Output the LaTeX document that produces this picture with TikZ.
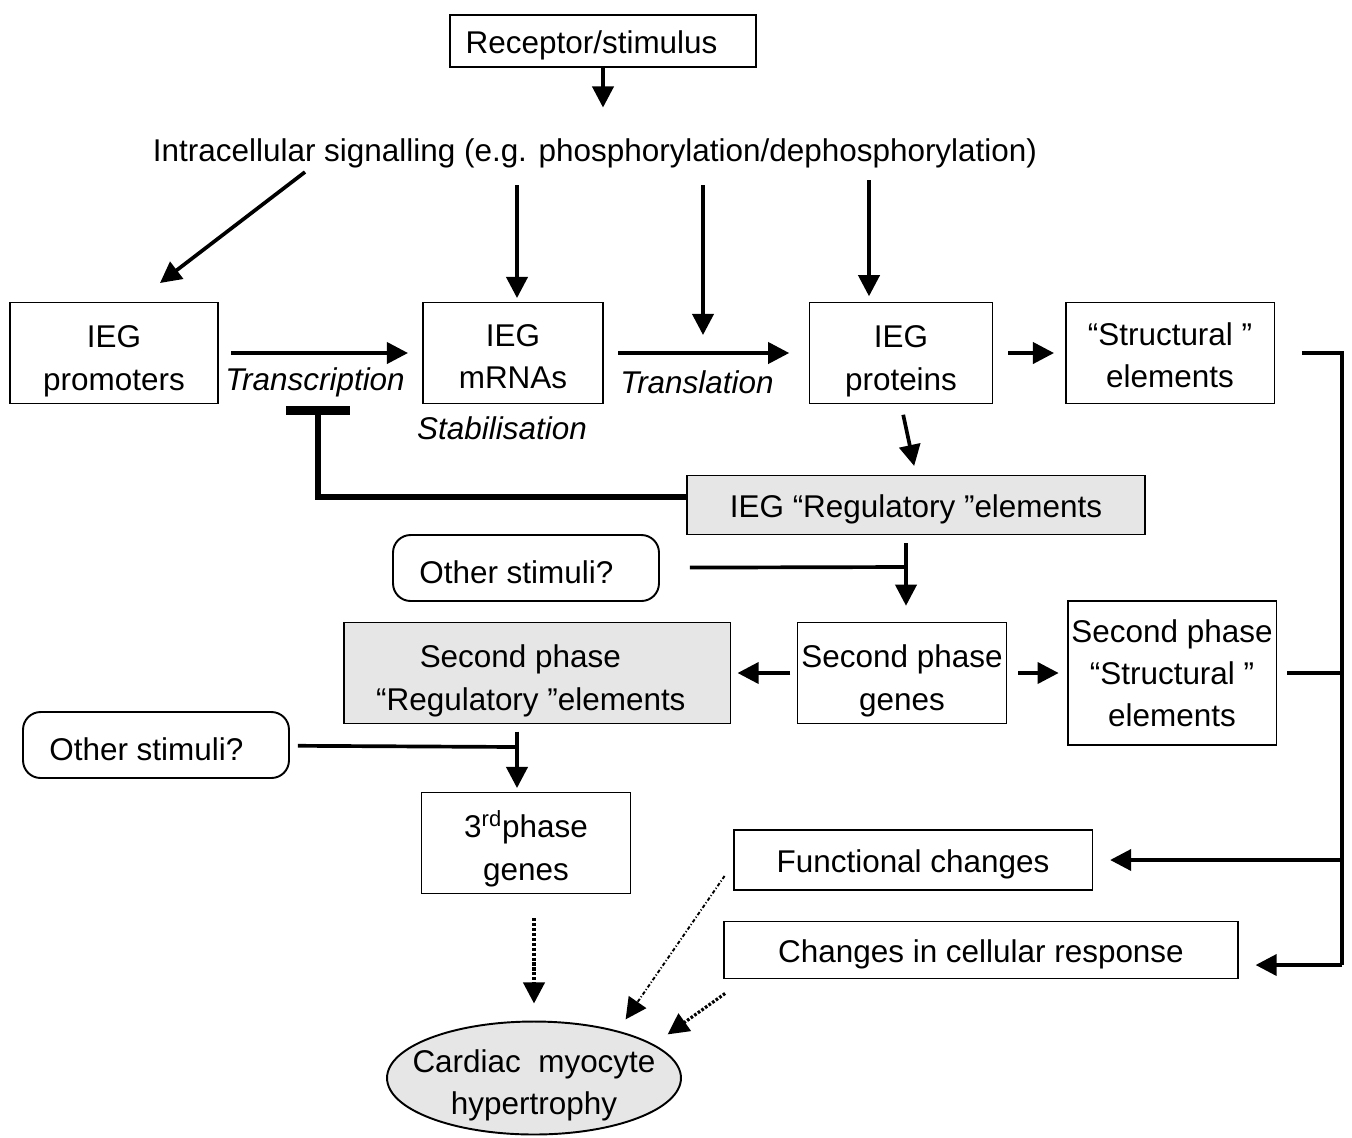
\documentclass[tikz,border=0pt]{standalone}
\usepackage{fontspec}
\setmainfont{Liberation Sans}
\usetikzlibrary{arrows.meta,shapes.geometric}
\definecolor{boxgray}{RGB}{230,230,230}
\newcommand{\boxstrut}[1][22pt]{\rule{0pt}{#1}}

\begin{document}
\begin{tikzpicture}[x=0.02cm,y=-0.02cm,
    font=\fontsize{17.9}{24}\selectfont,
    box/.style={draw,line width=1.1pt,inner sep=0pt,align=center,execute at begin node={\rule{0pt}{18pt}}},
    graybox/.style={box,fill=boxgray},
    stimbox/.style={box,rounded corners=10pt,minimum width=5.32cm,minimum height=1.32cm},
    arr/.style={line width=2.1pt,-{Triangle[length=12pt,width=12pt]}},
    ln/.style={line width=2.1pt,line join=miter},
    lbl/.style={font=\fontsize{17.9}{24}\selectfont\itshape}]
    \useasboundingbox (0,0) rectangle (1352,1137);

    \node[box,minimum width=6.12cm,minimum height=1.04cm] (rec) at (603,41) {Receptor/stimulus\hspace{13pt}};
    \node (sig) at (595,153) {Intracellular signalling (e.g. phosphorylation/dephosphorylation)};

    \node[box,minimum width=4.16cm,minimum height=2.02cm] (prom) at (114,353) {\boxstrut IEG\\promoters};
    \node[box,minimum width=3.6cm,minimum height=2.02cm] (mrna) at (513,353) {\boxstrut[17pt]IEG\\mRNAs};
    \node[box,minimum width=3.66cm,minimum height=2.02cm] (prot) at (901,353) {\boxstrut IEG\\proteins};
    \node[box,minimum width=4.18cm,minimum height=2.02cm] (struc) at (1170,353) {\boxstrut[15.5pt]“Structural ”\\elements};

    \node[lbl] (transc) at (315,382) {Transcription};
    \node[lbl] (transl) at (697,382) {Translation};
    \node[lbl] (stab) at (502,428) {Stabilisation};

    \node[graybox,minimum width=9.16cm,minimum height=1.18cm] (ireg) at (916,505) {IEG “Regulatory ”elements};
    \node[stimbox] (oth1) at (526,568) {Other stimuli?\hspace{11pt}};

    \node[box,minimum width=4.18cm,minimum height=2.02cm] (sgen) at (902,673) {\boxstrut Second phase\\genes};
    \node[graybox,minimum width=7.74cm,minimum height=2.02cm] (sreg) at (537,673) {\boxstrut Second phase\hspace*{19pt}\\“Regulatory ”elements\hspace*{7pt}};
    \node[box,minimum width=4.18cm,minimum height=2.88cm] (sstr) at (1172,673) {Second phase\\“Structural ”\\elements};

    \node[stimbox] (oth2) at (156,745) {Other stimuli?\hspace{11pt}};
    \node[box,minimum width=4.18cm,minimum height=2.02cm] (third) at (526,843) {\boxstrut 3\textsuperscript{rd}phase\\genes};

    \node[box,minimum width=7.18cm,minimum height=1.2cm] (func) at (913,860) {Functional changes};
    \node[box,minimum width=10.28cm,minimum height=1.14cm] (resp) at (981,950) {Changes in cellular response};

    \node[ellipse,draw,line width=1.1pt,fill=boxgray,inner sep=0pt,minimum width=5.88cm,minimum height=2.26cm,
        label={[align=center,yshift=-4pt]center:Cardiac\ \ myocyte\\hypertrophy}] (heart) at (534,1078) {};

    \coordinate (s0) at (305,172);
    \coordinate (t0) at (160,283);
    \coordinate (s1) at (517,185);
    \coordinate (s2) at (703,185);
    \coordinate (t2) at (703,335);
    \coordinate (s3) at (869,180);
    \coordinate (tbar) at (318,406);
    \coordinate (j1) at (906,567);
    \coordinate (j2) at (517,747);
    \coordinate (b1) at (1342,965);

    \draw[arr,shorten >=14pt] (rec.south) -- (rec.south |- sig.north);
    \draw[arr] (s0) -- (t0);
    \draw[arr,shorten >=2pt] (s1) -- (s1 |- mrna.north);
    \draw[arr] (s2) -- (t2);
    \draw[arr,shorten >=3pt] (s3) -- (s3 |- prot.north);

    \draw[arr,shorten <=7pt,shorten >=8pt] (prom) -- (mrna);
    \draw[arr,shorten <=8pt,shorten >=11pt] (mrna) -- (prot);
    \draw[arr,shorten <=8.5pt,shorten >=6pt] (prot) -- (struc);
    \draw[arr,shorten <=6pt,shorten >=5pt] (prot.south) -- (ireg.north);

    \draw[line width=3.3pt,-{Bar[width=36pt,line width=5pt]}] ([shift={(0,-8)}]ireg.west) -| (tbar);

    \draw[arr,shorten <=4.5pt,shorten >=9pt] (ireg.south -| j1) -- (j1 |- sgen.north);
    \draw[ln,shorten <=17pt] (oth1) -- (j1);
    \draw[arr,shorten <=3.5pt,shorten >=3.5pt] (sgen) -- (sreg);
    \draw[arr,shorten <=6pt,shorten >=4.5pt] (sgen) -- (sstr);

    \draw[arr,shorten <=4pt,shorten >=2pt] (sreg.south -| j2) -- (j2 |- third.north);
    \draw[ln,shorten <=4.5pt] (oth2) -- (j2);

    \draw[ln,shorten <=15pt] (struc.east) -| (b1);
    \draw[ln,shorten <=5.5pt] (sstr.east) -- (sstr.east -| b1);
    \draw[arr,shorten >=9.5pt] (b1 |- func.east) -- (func.east);
    \draw[arr,shorten >=9.5pt] (b1) -- (b1 -| resp.east);

    \draw[arr,line width=2.2pt,dash pattern=on 1.8pt off 1pt,shorten <=13.5pt,shorten >=9.7pt] (heart.north |- third.south) -- (heart.north);
    \draw[arr,line width=1.1pt,dash pattern=on 2pt off 1.2pt on 0.6pt off 1.2pt] ([shift={(-8,-15)}]func.south west) -- ([shift={(-13,-18)}]heart.north east);
    \draw[arr,line width=1.8pt,dash pattern=on 1.5pt off 1pt] ([shift={(2,14)}]resp.south west) -- ([shift={(29,-3)}]heart.north east);
\end{tikzpicture}
\end{document}
